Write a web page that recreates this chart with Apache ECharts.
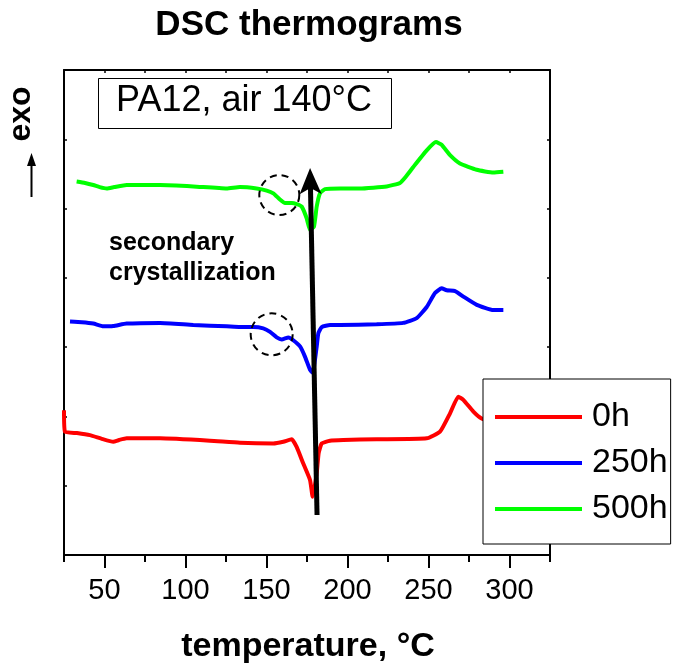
<!DOCTYPE html>
<html>
<head>
<meta charset="utf-8">
<script src="https://cdn.jsdelivr.net/npm/echarts@6/dist/echarts.min.js"></script>
<style>html,body{margin:0;padding:0;background:#fff}#c{width:682px;height:666px}</style>
</head>
<body>
<div id="c"></div>
<script>
const FONT = "'Liberation Sans', Arial, Helvetica, sans-serif";

// Series names
const seriesNames = ['0h', '250h', '500h'];
const seriesColors = ['#ff0000', '#0000ff', '#00ff00'];

// [temperature (°C), heat flow (a.u., offset)]
const curve0h = [[25,2.09],[25.6,1.78],[33,1.76],[41,1.73],[48,1.68],[55.4,1.635],[59,1.66],[63.7,1.684],[84.3,1.684],[115.1,1.65],[133.6,1.62],[154.2,1.61],[160.4,1.635],[165.6,1.67],[168.6,1.56],[172.7,1.32],[176.9,1.08],[178.5,0.84],[181,1.18],[182.2,1.47],[184.1,1.61],[189.2,1.65],[197.4,1.66],[218,1.67],[248.9,1.684],[257.1,1.78],[263.3,2.045],[268.4,2.285],[271.5,2.24],[277.7,2.07],[282.8,1.97],[290,1.92],[295,1.90]];
const curve250h = [[28.7,3.37],[36,3.36],[43.1,3.34],[49.3,3.30],[55.4,3.305],[63.7,3.34],[84.3,3.35],[104.8,3.32],[125.4,3.30],[133.6,3.29],[141.9,3.29],[148,3.27],[152.2,3.22],[156.3,3.14],[159.4,3.11],[163.5,3.14],[166.5,3.10],[170.7,3.01],[173.8,2.86],[176.9,2.67],[178.5,2.63],[181,3.01],[182,3.20],[184.1,3.29],[189.2,3.32],[195.4,3.32],[218,3.33],[234.4,3.35],[242.7,3.42],[248.9,3.58],[254,3.78],[258.1,3.85],[261.2,3.82],[266.4,3.81],[271.5,3.73],[279.8,3.61],[290,3.535],[296.2,3.535]];
const curve500h = [[32.8,5.39],[38,5.37],[43.1,5.34],[47,5.31],[51.4,5.29],[56,5.31],[63.7,5.34],[84.3,5.34],[104.8,5.32],[125.4,5.29],[133.6,5.31],[143.9,5.29],[150.1,5.26],[154.2,5.22],[158.3,5.13],[161.4,5.08],[165.6,5.08],[168.6,5.065],[171.7,5.03],[174.8,4.86],[176.9,4.69],[179.3,4.74],[181,5.03],[183,5.22],[186.1,5.28],[195.4,5.29],[207.7,5.29],[224.2,5.32],[232.4,5.37],[236,5.46],[240.6,5.60],[248.9,5.84],[254.6,5.96],[258.1,5.92],[263.3,5.77],[269.4,5.65],[279.7,5.56],[290,5.52],[296.2,5.53]];
const curves = [curve0h, curve250h, curve500h];

// Axis ticks
const xTickLabels = [50, 100, 150, 200, 250, 300];
const xMinorTicks = [25, 75, 125, 175, 225, 275, 325];

// Annotation anchors in data coordinates
const arrowFrom = [181.2, 0.577];
const arrowTo = [176.9, 5.584];
const circle500 = [157.9, 5.195];
const circle250 = [153.2, 3.185];

const chart = echarts.init(document.getElementById('c'), null, {renderer: 'canvas'});

const blackLine = {color: '#000', width: 2};
const option = {
  animation: false,
  backgroundColor: '#fff',
  grid: {left: 64, right: 132, top: 70, bottom: 111, containLabel: false},
  xAxis: [
    {type: 'value', position: 'bottom', min: 25, max: 325, interval: 25,
     axisLine: {onZero: false, lineStyle: blackLine},
     axisTick: {inside: false, length: 7, lineStyle: blackLine, customValues: xMinorTicks},
     axisLabel: {customValues: xTickLabels, fontSize: 29, color: '#000', fontFamily: FONT, margin: 21},
     splitLine: {show: false}},
    {type: 'value', position: 'bottom', min: 25, max: 325, interval: 25,
     axisLine: {show: false, onZero: false},
     axisTick: {inside: false, length: 13, lineStyle: blackLine, customValues: xTickLabels},
     axisLabel: {show: false}, splitLine: {show: false}},
    {type: 'value', position: 'top', min: 25, max: 325, interval: 25,
     axisLine: {onZero: false, lineStyle: blackLine},
     axisTick: {inside: true, length: 3, lineStyle: {color: '#000', width: 1.5}},
     axisLabel: {show: false}, splitLine: {show: false}}
  ],
  yAxis: [
    {type: 'value', position: 'left', min: 0, max: 7, interval: 1,
     axisLine: {show: true, onZero: false, lineStyle: blackLine},
     axisTick: {show: true, inside: true, length: 3, lineStyle: {color: '#000', width: 1.5}},
     axisLabel: {show: false}, splitLine: {show: false}},
    {type: 'value', position: 'right', min: 0, max: 7, interval: 1,
     axisLine: {show: true, onZero: false, lineStyle: blackLine},
     axisTick: {show: true, inside: true, length: 3, lineStyle: {color: '#000', width: 1.5}},
     axisLabel: {show: false}, splitLine: {show: false}}
  ],
  legend: {
    orient: 'vertical', left: 483, top: 379, padding: [21, 3, 18, 12],
    itemWidth: 87, itemHeight: 4, itemGap: 12, icon: 'rect',
    backgroundColor: '#fff', borderColor: '#000', borderWidth: 1, borderRadius: 0,
    selectedMode: false,
    textStyle: {fontSize: 34, color: '#000', fontFamily: FONT, lineHeight: 34, padding: [0, 0, 0, 5]},
    data: seriesNames
  },
  series: seriesNames.map((n, i) => ({
    type: 'line', name: n, data: curves[i], symbol: 'none', smooth: 0.15,
    xAxisIndex: 0, yAxisIndex: 0,
    lineStyle: {color: seriesColors[i], width: 4}, itemStyle: {color: seriesColors[i]}
  }))
};
chart.setOption(option);

const px = p => chart.convertToPixel({xAxisIndex: 0, yAxisIndex: 0}, p);
const B = px(arrowFrom), T = px(arrowTo);
let dx = T[0] - B[0], dy = T[1] - B[1];
const len = Math.sqrt(dx * dx + dy * dy); dx /= len; dy /= len;
const nx = -dy, ny = dx;
const L = 26, W = 11, notch = 6;
const headPts = [
  [T[0], T[1]],
  [T[0] - dx * L + nx * W, T[1] - dy * L + ny * W],
  [T[0] - dx * (L - notch), T[1] - dy * (L - notch)],
  [T[0] - dx * L - nx * W, T[1] - dy * L - ny * W]
];
const shaftEnd = [T[0] - dx * (L - notch - 1), T[1] - dy * (L - notch - 1)];
const C5 = px(circle500), C2 = px(circle250);

const graphics = [
  {type: 'text', x: 309, y: 25, z: 100, style: {text: 'DSC thermograms', fontSize: 35, fontWeight: 'bold', fontFamily: FONT, fill: '#000', align: 'center', verticalAlign: 'middle'}},
  {type: 'rect', z: 100, shape: {x: 98.5, y: 78.5, width: 293, height: 50}, style: {fill: '#fff', stroke: '#000', lineWidth: 1}},
  {type: 'text', x: 244, y: 101, z: 101, style: {text: 'PA12, air 140°C', fontSize: 36, fontFamily: FONT, fill: '#000', align: 'center', verticalAlign: 'middle'}},
  {type: 'text', x: 109, y: 243.5, z: 100, style: {text: 'secondary', fontSize: 25, fontWeight: 'bold', fontFamily: FONT, fill: '#000', align: 'left', verticalAlign: 'middle'}},
  {type: 'text', x: 109, y: 273.5, z: 100, style: {text: 'crystallization', fontSize: 25, fontWeight: 'bold', fontFamily: FONT, fill: '#000', align: 'left', verticalAlign: 'middle'}},
  {type: 'text', x: 308, y: 647, z: 100, style: {text: 'temperature, °C', fontSize: 34, fontWeight: 'bold', fontFamily: FONT, fill: '#000', align: 'center', verticalAlign: 'middle'}},
  {type: 'text', x: 21, y: 114, rotation: Math.PI / 2, z: 100, style: {text: 'exo', fontSize: 32, fontWeight: 'bold', fontFamily: FONT, fill: '#000', align: 'center', verticalAlign: 'middle'}},
  {type: 'line', z: 100, shape: {x1: 31.5, y1: 197, x2: 31.5, y2: 162}, style: {stroke: '#000', lineWidth: 2}},
  {type: 'polygon', z: 100, shape: {points: [[31.5, 153], [27, 166], [36, 166]]}, style: {fill: '#000'}},
  {type: 'circle', z: 60, shape: {cx: C5[0], cy: C5[1], r: 20}, style: {fill: 'rgba(0,0,0,0)', stroke: '#000', lineWidth: 2, lineDash: [7, 5]}},
  {type: 'circle', z: 60, shape: {cx: C2[0], cy: C2[1], r: 21}, style: {fill: 'rgba(0,0,0,0)', stroke: '#000', lineWidth: 2, lineDash: [7, 5]}},
  {type: 'line', z: 70, shape: {x1: B[0], y1: B[1], x2: shaftEnd[0], y2: shaftEnd[1]}, style: {stroke: '#000', lineWidth: 5}},
  {type: 'polygon', z: 70, shape: {points: headPts}, style: {fill: '#000'}}
];
chart.setOption({graphic: graphics});
</script>
</body>
</html>
